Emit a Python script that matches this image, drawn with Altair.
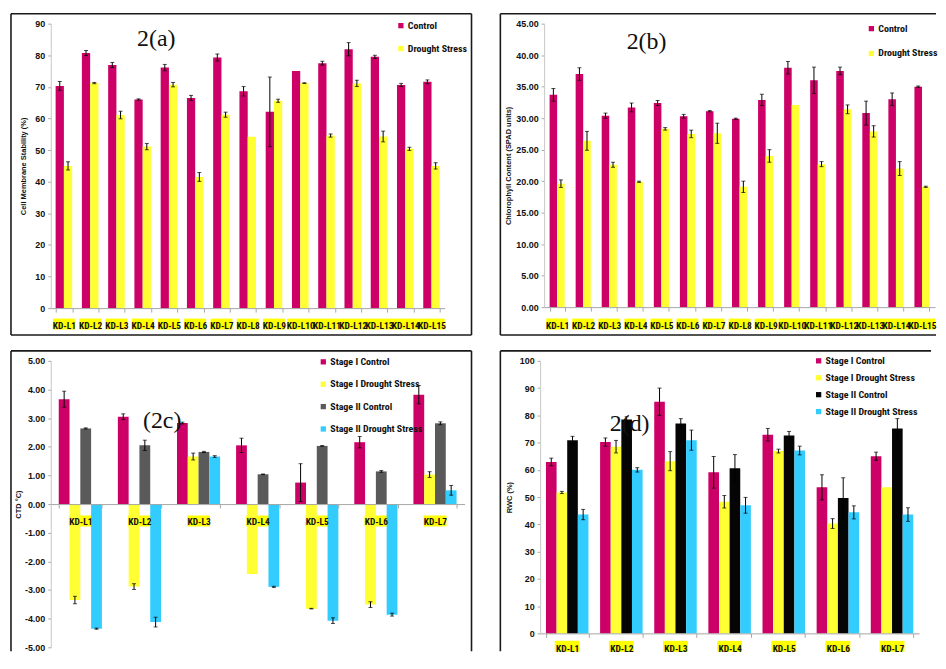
import altair as alt
import pandas as pd

FONT_N = "Roboto Condensed, Liberation Sans Narrow, Arial Narrow, sans-serif"
FONT_B = "Liberation Sans, Arial, sans-serif"
SERIF = "Liberation Serif, Times New Roman, DejaVu Serif, serif"

MAGENTA = "#CC0066"
YELLOW = "#FFFF33"
GREY = "#5A5A5A"
BLACK = "#050505"
CYAN = "#33CCFF"
HILITE = "#FFFF00"
FRAME = "#1A1A1A"

# ---------------- data ----------------
lines15 = ["KD-L1", "KD-L2", "KD-L3", "KD-L4", "KD-L5", "KD-L6", "KD-L7", "KD-L8",
           "KD-L9", "KD-L10", "KD-L11", "KD-L12", "KD-L13", "KD-L14", "KD-L15"]
lines7 = ["KD-L1", "KD-L2", "KD-L3", "KD-L4", "KD-L5", "KD-L6", "KD-L7"]

# 2(a) Cell membrane stability (%)
a_series = ["Control", "Drought Stress"]
a_control = [70.3, 80.7, 76.9, 66.0, 76.1, 66.5, 79.3, 68.6, 62.1, 75.0, 77.5, 81.9, 79.5, 70.6, 71.6]
a_control_err = [1.4, 0.8, 0.8, 0.2, 1.0, 0.8, 1.1, 1.5, 11.0, 0.0, 0.6, 2.1, 0.5, 0.5, 0.6]
a_drought = [45.0, 71.2, 61.1, 51.1, 70.7, 41.5, 61.2, 54.2, 65.6, 71.2, 54.6, 71.1, 54.3, 50.4, 45.0]
a_drought_err = [1.3, 0.2, 1.2, 1.0, 0.7, 1.4, 0.8, 0.0, 0.5, 0.1, 0.5, 1.0, 1.7, 0.5, 1.0]

# 2(b) Chlorophyll content (SPAD units)
b_series = ["Control", "Drought Stress"]
b_control = [33.7, 37.0, 30.4, 31.7, 32.4, 30.3, 31.1, 29.9, 32.9, 38.0, 36.0, 37.5, 30.8, 33.0, 35.0]
b_control_err = [1.0, 1.0, 0.4, 0.7, 0.4, 0.3, 0.1, 0.1, 0.9, 1.0, 2.1, 0.6, 1.9, 1.0, 0.1]
b_drought = [19.6, 26.4, 22.6, 19.9, 28.3, 27.5, 27.6, 19.1, 24.0, 32.1, 22.7, 31.4, 27.9, 22.0, 19.1]
b_drought_err = [0.6, 1.5, 0.4, 0.1, 0.2, 0.6, 1.6, 0.9, 1.0, 0.0, 0.4, 0.7, 0.9, 1.1, 0.1]

# 2(c) CTD
cd_series = ["Stage I Control", "Stage I Drought Stress", "Stage II Control", "Stage II Drought Stress"]
c_s1_control = [3.66, 3.05, 2.83, 2.05, 0.75, 2.16, 3.82]
c_s1_control_err = [0.28, 0.10, 0.03, 0.25, 0.66, 0.20, 0.32]
c_s1_drought = [-3.35, -2.88, 1.66, -2.44, -3.65, -3.51, 1.03]
c_s1_drought_err = [0.13, 0.10, 0.12, 0.0, 0.01, 0.10, 0.10]
c_s2_control = [2.64, 2.05, 1.82, 1.04, 2.03, 1.14, 2.82]
c_s2_control_err = [0.02, 0.18, 0.02, 0.01, 0.01, 0.03, 0.05]
c_s2_drought = [-4.35, -4.12, 1.66, -2.89, -4.07, -3.86, 0.48]
c_s2_drought_err = [0.02, 0.17, 0.03, 0.02, 0.10, 0.05, 0.17]

# 2(d) RWC (%)
d_s1_control = [62.9, 70.2, 85.0, 59.1, 72.9, 53.6, 65.0]
d_s1_control_err = [1.4, 1.5, 5.0, 5.8, 2.3, 4.6, 1.5]
d_s1_drought = [51.7, 68.5, 63.2, 48.3, 66.9, 40.3, 53.6]
d_s1_drought_err = [0.4, 2.3, 3.5, 2.3, 0.7, 1.8, 0.0]
d_s2_control = [70.9, 78.5, 77.0, 60.6, 72.6, 49.7, 75.2]
d_s2_control_err = [1.4, 1.0, 1.8, 5.0, 1.5, 7.4, 3.6]
d_s2_drought = [43.6, 60.0, 70.9, 47.0, 67.1, 44.4, 43.6]
d_s2_drought_err = [1.9, 0.8, 3.7, 2.9, 1.6, 2.4, 2.5]

a_ticks = [0, 10, 20, 30, 40, 50, 60, 70, 80, 90]
b_ticks = [0, 5, 10, 15, 20, 25, 30, 35, 40, 45]
c_ticks = [-5, -4, -3, -2, -1, 0, 1, 2, 3, 4, 5]
d_ticks = [0, 10, 20, 30, 40, 50, 60, 70, 80, 90, 100]


def make_df(cats, series, values, errors):
    rows = []
    for s, vals, errs in zip(series, values, errors):
        for c, v, e in zip(cats, vals, errs):
            rows.append(dict(cat=c, series=s, value=v, err=e, lo=v - e, hi=v + e))
    return pd.DataFrame(rows)


def frame_rule(x1, x2, y1, y2):
    one = pd.DataFrame({"k": [0]})
    enc = dict(x=alt.value(x1), y=alt.value(y1))
    if x2 is not None:
        enc["x2"] = alt.value(x2)
    if y2 is not None:
        enc["y2"] = alt.value(y2)
    return alt.Chart(one).mark_rule(color=FRAME, strokeWidth=1.6).encode(**enc)


def panel(cfg):
    W, H = cfg["W"], cfg["H"]
    cats, series = cfg["cats"], cfg["series"]
    df = make_df(cats, series, cfg["values"], cfg["errors"])
    one = pd.DataFrame({"k": [0]})
    xscale = alt.Scale(domain=cats, paddingInner=cfg["pi"], paddingOuter=cfg["pi"] / 2)
    yscale = alt.Scale(domain=cfg["ydom"], nice=False)
    xoff = alt.XOffset("series:N", sort=series, scale=alt.Scale(domain=series))
    x_axis = alt.Axis(title=None, labelAngle=0, labelFont=FONT_N, labelFontSize=cfg.get("xfs", 9.5),
                      labelFontWeight="bold", labelColor="#111111", labelPadding=cfg["lp"],
                      labelOverlap=False, labelLimit=300, tickBand="extent", tickSize=4,
                      tickColor="#A6A6A6", domainColor="#A6A6A6", offset=cfg.get("xoff", 0), zindex=1)
    y_axis = alt.Axis(values=cfg["yvals"], grid=False, title=cfg["ytitle"], titlePadding=cfg["tp"],
                      titleFont=FONT_B, titleFontSize=7.5, titleFontWeight="bold", titleColor="#111111",
                      labelFont=FONT_B, labelFontSize=9, labelFontWeight="bold", labelColor="#111111",
                      labelPadding=3, tickSize=3, tickColor="#A6A6A6", domainColor="#C8C8C8",
                      **cfg["yfmt"])
    legend = alt.Legend(orient="none", legendX=cfg["legx"], legendY=cfg["legy"], title=None,
                        symbolType="square", symbolSize=28, symbolStrokeWidth=0,
                        labelFont=FONT_N, labelFontSize=cfg.get("legfs", 10), labelFontWeight="bold",
                        labelColor="#111111", rowPadding=cfg["legpad"], padding=0, labelOffset=2)
    xs = alt.X("cat:N", sort=cats, scale=xscale, axis=x_axis)
    bars = alt.Chart(df).mark_bar().encode(
        x=xs,
        xOffset=xoff,
        y=alt.Y("value:Q", scale=yscale, axis=y_axis),
        color=alt.Color("series:N", scale=alt.Scale(domain=series, range=cfg["colors"]), legend=legend),
    )
    whisk = alt.Chart(df).transform_filter("datum.err > 0").mark_rule(color="#000000", strokeWidth=1).encode(
        x=xs, xOffset=xoff, y=alt.Y("lo:Q", scale=yscale, axis=y_axis), y2="hi:Q")
    cap_lo = alt.Chart(df).transform_filter("datum.err > 0").mark_tick(color="#000000", thickness=1, size=4).encode(
        x=xs, xOffset=xoff, y=alt.Y("lo:Q", scale=yscale, axis=y_axis))
    cap_hi = alt.Chart(df).transform_filter("datum.err > 0").mark_tick(color="#000000", thickness=1, size=4).encode(
        x=xs, xOffset=xoff, y=alt.Y("hi:Q", scale=yscale, axis=y_axis))
    hl = alt.Chart(pd.DataFrame({"cat": cats})).transform_calculate(
        hw="length(datum.cat) * %s" % cfg["hlw"]).mark_bar(color=HILITE).encode(
        x=xs, y=alt.value(cfg["ly"] - 5.5), y2=alt.value(cfg["ly"] + 5.5),
        size=alt.Size("hw:Q", scale=None, legend=None))
    tag = alt.Chart(one).mark_text(font=SERIF, fontSize=24, color="#111111", align="center",
                                   baseline="middle").encode(
        x=alt.value(cfg["tagx"]), y=alt.value(cfg["tagy"]), text=alt.value(cfg["tag"]))
    frames = [frame_rule(*f) for f in cfg["frames"]]
    return alt.layer(hl, bars, whisk, cap_lo, cap_hi, *frames, tag).properties(width=W, height=H)


# ---------------- panels ----------------
Wa, Ha = 396, 286
pa = panel(dict(
    W=Wa, H=Ha, cats=lines15, series=a_series, colors=[MAGENTA, YELLOW],
    values=[a_control, a_drought], errors=[a_control_err, a_drought_err],
    pi=0.37, ydom=[0, 90], yvals=a_ticks, yfmt={}, ytitle="Cell Membrane Stability (%)", tp=7,
    lp=8, ly=Ha + 16, hlw=4.4, legx=347, legy=-3, legpad=13,
    tag="2(a)", tagx=106, tagy=15,
    frames=[(-40, Wa + 27, -10, None), (-40, Wa + 27, Ha + 27, None),
            (-40, None, -10, Ha + 27), (Wa + 27, None, -10, Ha + 27)],
))

Wb, Hb = 393, 285
pb = panel(dict(
    W=Wb, H=Hb, cats=lines15, series=b_series, colors=[MAGENTA, YELLOW],
    values=[b_control, b_drought], errors=[b_control_err, b_drought_err],
    pi=0.42, ydom=[0, 45], yvals=b_ticks, yfmt={"format": ".2f"},
    ytitle="Chlorophyll Content (SPAD units)", tp=3,
    lp=9, ly=Hb + 17, hlw=4.4, legx=324, legy=0, legpad=15,
    tag="2(b)", tagx=103, tagy=18,
    frames=[(-44, Wb + 1, -10, None), (-44, Wb + 1, Hb + 28, None), (-44, None, -10, Hb + 28)],
))

Wc, Hc = 416, 288
pc = panel(dict(
    W=Wc, H=Hc, cats=lines7, series=cd_series, colors=[MAGENTA, YELLOW, GREY, CYAN],
    values=[c_s1_control, c_s1_drought, c_s2_control, c_s2_drought],
    errors=[c_s1_control_err, c_s1_drought_err, c_s2_control_err, c_s2_drought_err],
    pi=0.27, ydom=[-5, 5], yvals=c_ticks,
    yfmt={"labelExpr": "(datum.value < 0 ? '-' : '') + format(abs(datum.value), '.2f')"},
    ytitle="CTD °C)", tp=2,
    lp=9, xoff=-Hc / 2, ly=Hc / 2 + 17, hlw=4.6, legx=269, legy=-4, legpad=12.5,
    tag="(2c)", tagx=112, tagy=61,
    frames=[(-40, Wc + 7, -10, None), (-40, None, -10, Hc + 4), (Wc + 7, None, -10, Hc + 4)],
))

Wd, Hd = 381, 274
pd_ = panel(dict(
    W=Wd, H=Hd, cats=lines7, series=cd_series, colors=[MAGENTA, YELLOW, BLACK, CYAN],
    values=[d_s1_control, d_s1_drought, d_s2_control, d_s2_drought],
    errors=[d_s1_control_err, d_s1_drought_err, d_s2_control_err, d_s2_drought_err],
    pi=0.215, ydom=[0, 100], yvals=d_ticks, yfmt={}, ytitle="RWC (%)", tp=6,
    lp=6, ly=Hd + 13, hlw=5.0, legx=275, legy=-5, legpad=7,
    tag="2(d)", tagx=90, tagy=64,
    frames=[(-40, Wd + 12, -10, None), (-40, None, -10, Hd + 18)],
))


def indep(ch):
    return ch.resolve_scale(color="independent", xOffset="independent",
                            x="independent", y="independent").resolve_legend(color="independent")


row1 = indep(alt.hconcat(pa, pb, spacing=27))
row2 = indep(alt.hconcat(pc, pd_, spacing=27))
chart = indep(alt.vconcat(row1, row2, spacing=14)).properties(
    padding={"left": 2, "top": 3, "right": 0, "bottom": 0}, background="white"
).configure_view(stroke=None)

chart.save("out.html", embed_options={"renderer": "svg", "actions": False})
